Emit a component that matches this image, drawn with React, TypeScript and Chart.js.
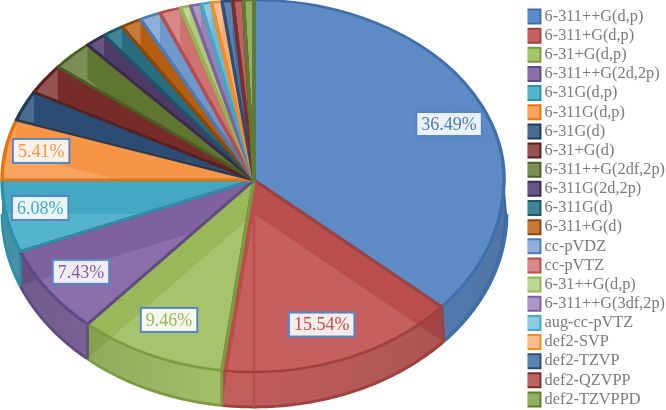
import React, { useEffect, useRef } from "react";
import { Chart, registerables } from "chart.js";

Chart.register(...registerables);

const categories = ["6-311++G(d,p)","6-311+G(d,p)","6-31+G(d,p)","6-311++G(2d,2p)","6-31G(d,p)","6-311G(d,p)","6-31G(d)","6-31+G(d)","6-311++G(2df,2p)","6-311G(2d,2p)","6-311G(d)","6-311+G(d)","cc-pVDZ","cc-pVTZ","6-31++G(d,p)","6-311++G(3df,2p)","aug-cc-pVTZ","def2-SVP","def2-TZVP","def2-QZVPP","def2-TZVPPD"];
const counts = [54,23,14,11,9,8,4,4,4,2,2,2,2,2,1,1,1,1,1,1,1];
const fillColors = ["#4E7DB6","#B94E4B","#9AB85A","#7F619F","#45A8C2","#F59545","#2B4D75","#772C2A","#5F7630","#4D3A66","#276C7F","#B65E10","#6F98CC","#CE7270","#AECB7A","#9A82B8","#6FBCD2","#F9A968","#3F6DA1","#A84542","#7F9E45"];
const litColors = ["#5E8BC5","#C5605E","#A6C46B","#8B6FAB","#56B3CC","#F9A35F","#4B6C92","#945250","#7B8E55","#665684","#438396","#C67A3A","#8FAEDA","#D68987","#BDD692","#AD99C6","#8CCBDD","#FBBD8B","#5A83B3","#BA6360","#93AF60"];
const borderColors = ["#3F70AB","#A0403D","#7D9B41","#5F4A85","#2E8FA9","#E8730C","#1F3A5C","#5C1F1D","#4B5F24","#3A2A50","#1C5668","#8F4708","#4A7DBA","#BC4B48","#93B553","#7D60A1","#45A8C4","#FB8A1F","#2A4F7F","#7E2D2B","#5F7B2E"];
const labelReach = [0.84,0.8,0.803,0.837,0.861,0.86];
const labelTurn = [2.6,0.9,0.5,0.4,1.2,1.1];

const AX = 254, AY = 180, RX_L = 252, RX_R = 250, RY_T = 180, RY_B = 192, DEPTH = 34, WALL_RX_R = 253, WALL_RY_B = 193;
const LEGEND_SHIFT_X = 9, LEGEND_SHIFT_Y = 3;

function project(a: number, dy: number, rxR: number, reach = 1, ryB = RY_B) {
  const c = Math.cos(a), s = Math.sin(a);
  return { x: AX + reach * c * (c > 0 ? rxR : RX_L), y: AY + dy + reach * s * (s > 0 ? ryB : RY_T) };
}
function samples(a0: number, a1: number) {
  const n = Math.max(2, Math.ceil((a1 - a0) / 0.01));
  const out: number[] = [];
  for (let i = 0; i <= n; i++) out.push(a0 + ((a1 - a0) * i) / n);
  return out;
}
function wedgePath(a0: number, a1: number, dy: number) {
  const p = new Path2D();
  p.moveTo(AX, AY + dy);
  for (const a of samples(a0, a1)) { const q = project(a, dy, RX_R); p.lineTo(q.x, q.y); }
  p.closePath();
  return p;
}
function stripPath(a0: number, a1: number, rxLow: number, ryLow: number) {
  const p = new Path2D();
  const s = samples(a0, a1);
  s.forEach((a, i) => { const q = project(a, 0, RX_R); i ? p.lineTo(q.x, q.y) : p.moveTo(q.x, q.y); });
  s.reverse().forEach((a) => { const q = project(a, DEPTH, rxLow, 1, ryLow); p.lineTo(q.x, q.y); });
  p.closePath();
  return p;
}

const pieFaces = {
  id: "pieFaces",
  beforeDraw(chart: any) {
    const legend = chart.legend;
    legend.left += LEGEND_SHIFT_X;
    legend.right += LEGEND_SHIFT_X;
    legend.top += LEGEND_SHIFT_Y;
    legend.bottom += LEGEND_SHIFT_Y;
  },
  beforeDatasetsDraw(chart: any) {
    const ctx: CanvasRenderingContext2D = chart.ctx;
    const arcs: any[] = chart.getDatasetMeta(0).data;
    const total = counts.reduce((s, v) => s + v, 0);
    const drawFace = (el: any, options: any) => {
      const face = Object.create(el);
      face.options = { borderAlign: "center", borderJoinStyle: "round", borderDash: [], borderDashOffset: 0, borderRadius: 0, offset: 0, spacing: 0, circular: true, selfJoin: false, ...options };
      const quads = [
        { x: 0, y: 0, w: AX, h: AY, sx: RX_L, sy: RY_T },
        { x: AX, y: 0, w: 666 - AX, h: AY, sx: RX_R, sy: RY_T },
        { x: 0, y: AY, w: AX, h: 410 - AY, sx: RX_L, sy: RY_B },
        { x: AX, y: AY, w: 666 - AX, h: 410 - AY, sx: RX_R, sy: RY_B },
      ];
      for (const q of quads) {
        ctx.save();
        ctx.beginPath();
        ctx.rect(q.x, q.y, q.w, q.h);
        ctx.clip();
        ctx.translate(AX, AY);
        ctx.scale(q.sx / el.outerRadius, q.sy / el.outerRadius);
        ctx.translate(-el.x, -el.y);
        face.draw(ctx);
        ctx.restore();
      }
    };

    // side walls
    arcs.forEach((el, i) => {
      const a0 = Math.max(el.startAngle, 0), a1 = Math.min(el.endAngle, Math.PI);
      if (a1 <= a0) return;
      const strip = stripPath(a0, a1, WALL_RX_R, WALL_RY_B);
      ctx.save();
      ctx.fillStyle = fillColors[i];
      ctx.fill(strip);
      ctx.clip(strip);
      ctx.fillStyle = litColors[i];
      ctx.fill(wedgePath(el.startAngle, el.endAngle, DEPTH));
      const shade = ctx.createLinearGradient(0, 0, 507, 0);
      shade.addColorStop(0, "rgba(0,0,0,0.2)");
      shade.addColorStop(0.45, "rgba(0,0,0,0.02)");
      shade.addColorStop(1, "rgba(0,0,0,0.16)");
      ctx.fillStyle = shade;
      ctx.fillRect(0, 0, 666, 410);
      ctx.restore();
      ctx.strokeStyle = borderColors[i];
      ctx.lineWidth = 2.8;
      ctx.beginPath();
      samples(a0, a1).forEach((a, k) => { const q = project(a, DEPTH, WALL_RX_R, 1, WALL_RY_B); k ? ctx.lineTo(q.x, q.y) : ctx.moveTo(q.x, q.y); });
      ctx.stroke();
    });
    arcs.forEach((el, i) => {
      for (const a of [el.startAngle, el.endAngle]) {
        if (Math.sin(a) <= 0.01) continue;
        const top = project(a, 0, RX_R), low = project(a, DEPTH, WALL_RX_R, 1, WALL_RY_B);
        ctx.strokeStyle = borderColors[i];
        ctx.lineWidth = 2.6;
        ctx.beginPath(); ctx.moveTo(top.x, top.y); ctx.lineTo(low.x, low.y); ctx.stroke();
      }
    });

    // top faces: dark fill, lit reflection of floor and back wall
    arcs.forEach((el, i) => {
      drawFace(el, { backgroundColor: fillColors[i], borderColor: "rgba(0,0,0,0)", borderWidth: 0 });
      ctx.save();
      ctx.clip(wedgePath(el.startAngle, el.endAngle, 0));
      ctx.fillStyle = litColors[i];
      ctx.fill(wedgePath(el.startAngle, el.endAngle, DEPTH));
      const a0 = el.startAngle, a1 = Math.min(el.endAngle, 0);
      if (a1 > a0) ctx.fill(stripPath(a0, a1, RX_R, RY_B));
      const b0 = Math.max(el.startAngle, Math.PI), b1 = el.endAngle;
      if (b1 > b0) ctx.fill(stripPath(b0, b1, RX_R, RY_B));
      ctx.restore();
    });
    // seam of the floor seen through the wedge that crosses the front
    arcs.forEach((el, i) => {
      if (el.startAngle < Math.PI / 2 && el.endAngle > Math.PI / 2) {
        ctx.strokeStyle = fillColors[i];
        ctx.lineWidth = 2.6;
        const q = project(Math.PI / 2, DEPTH, WALL_RX_R, 1, WALL_RY_B);
        ctx.beginPath(); ctx.moveTo(AX, AY + DEPTH); ctx.lineTo(AX, q.y); ctx.stroke();
      }
    });
    arcs.forEach((el, i) => {
      drawFace(el, { backgroundColor: "rgba(0,0,0,0)", borderColor: borderColors[i], borderWidth: 2.8 });
    });

    // percentage labels
    ctx.save();
    ctx.font = '18px "Liberation Serif"';
    ctx.textAlign = "center";
    ctx.textBaseline = "middle";
    labelReach.forEach((reach, i) => {
      const el = arcs[i];
      const p = project((el.startAngle + el.endAngle) / 2 + (labelTurn[i] * Math.PI) / 180, 0, RX_R, reach);
      const text = ((counts[i] / total) * 100).toFixed(2) + "%";
      const w = ctx.measureText(text).width + 10, h = 24;
      ctx.fillStyle = "rgba(255,255,255,0.88)";
      ctx.fillRect(p.x - w / 2, p.y - h / 2, w, h);
      ctx.strokeStyle = "#5585C6";
      ctx.lineWidth = 2;
      ctx.strokeRect(p.x - w / 2, p.y - h / 2, w, h);
      ctx.fillStyle = fillColors[i];
      ctx.fillText(text, p.x, p.y + 1);
    });
    ctx.restore();
    return false;
  },
};

export default function App() {
  const ref = useRef<HTMLCanvasElement>(null);
  useEffect(() => {
    document.body.style.margin = "0";
    const chart = new Chart(ref.current!, {
      type: "pie",
      data: { labels: categories, datasets: [{ data: counts, backgroundColor: fillColors, borderColor: borderColors, borderWidth: 2 }] },
      plugins: [pieFaces],
      options: {
        responsive: false,
        animation: false,
        plugins: {
          tooltip: { enabled: false },
          legend: {
            position: "right",
            labels: {
              usePointStyle: true,
              boxWidth: 6,
              boxHeight: 14,
              padding: 2.85,
              color: "#7a7a7a",
              font: { family: '"Liberation Serif"', size: 16.3 },
              generateLabels: () =>
                categories.map((text, i) => ({ text, fillStyle: litColors[i], strokeStyle: borderColors[i], lineWidth: 2, pointStyle: "rect", hidden: false, index: i, fontColor: "#7a7a7a" })),
            },
          },
        },
      },
    } as any);
    return () => chart.destroy();
  }, []);
  return (
    <div style={{ width: 666, height: 410 }}>
      <canvas ref={ref} width={666} height={410} style={{ display: "block" }} />
    </div>
  );
}
